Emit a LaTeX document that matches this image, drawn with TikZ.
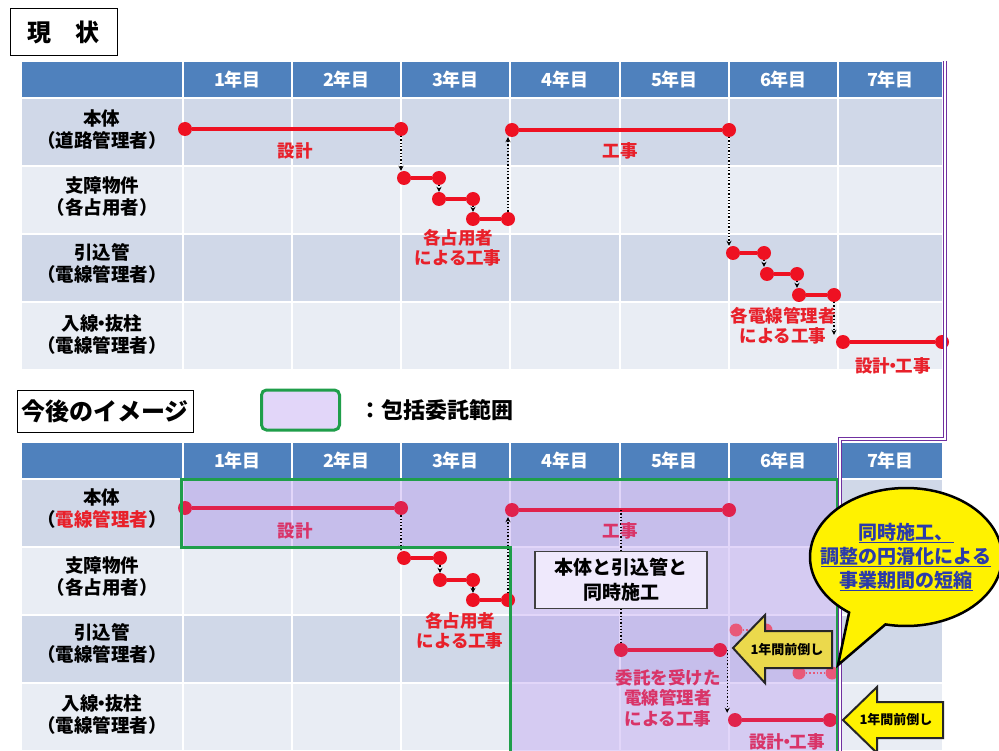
\documentclass[tikz,border=0pt]{standalone}
\usepackage{fontspec}
\setmainfont{Noto Sans CJK JP}
\usetikzlibrary{positioning,arrows.meta,calc,shapes.callouts}

\definecolor{hdrblue}{HTML}{4F81BD}
\definecolor{rowdark}{HTML}{D0D8E8}
\definecolor{rowlight}{HTML}{E9EDF4}
\definecolor{barred}{HTML}{EE1122}
\definecolor{labred}{HTML}{E8202A}
\definecolor{boxred}{HTML}{E0224C}
\definecolor{boxlbl}{HTML}{D93468}
\definecolor{scopelav}{HTML}{B799F0}
\definecolor{scopegreen}{HTML}{1F9E4A}
\definecolor{schedpurple}{HTML}{7030A0}
\definecolor{calloutblue}{HTML}{2B3BAA}
\definecolor{arrowyellow}{HTML}{FFF200}
\definecolor{arrowdim}{HTML}{EBD94C}

\newcommand{\nakaguro}{\kern-.33em・\kern-.33em}

\begin{document}
\begin{tikzpicture}[
    x=1pt, y=-1pt,
    cell/.style={draw=white, line width=1.5pt},
    yearlbl/.style={text=white, font=\bfseries\fontsize{18}{21}\selectfont},
    rowlbl/.style={align=center, font=\bfseries\fontsize{18.5}{22}\selectfont},
    redlbl/.style={align=center, text=labred, font=\bfseries\fontsize{17.5}{20.5}\selectfont},
    boxlbl/.style={redlbl, text=boxlbl},
    titlebox/.style={draw, line width=1pt, inner sep=0pt, font=\bfseries\fontsize{24}{28}\selectfont},
    mstone/.style={circle, fill=barred, inner sep=0pt, minimum size=14pt},
    boxstone/.style={mstone, fill=boxred},
    ghost/.style={circle, fill=boxred!75, inner sep=0pt, minimum size=13pt},
    task/.style={line width=4pt, barred},
    boxtask/.style={line width=4pt, boxred},
    dep/.style={-{Stealth[length=5pt, width=5pt]}, dotted, line width=1.3pt},
    pullarrow/.style={draw=black!85, line width=2pt, fill=arrowyellow},
    pulllbl/.style={inner sep=0pt, font=\bfseries\fontsize{13}{15}\selectfont},
    notebox/.style={draw=black!75, line width=1.2pt, fill=scopelav!22, align=center, minimum width=172pt, minimum height=57pt, font=\bfseries\fontsize{19}{25}\selectfont},
    bubble/.style={ellipse callout, draw=black, line width=2.5pt, fill=yellow, minimum width=192pt, minimum height=138pt, callout pointer arc=24},
    bubbletxt/.style={align=center, text=calloutblue, font=\bfseries\fontsize{19}{24}\selectfont},
    scopefill/.style={fill=scopelav, fill opacity=0.4},
    scopeline/.style={draw=scopegreen, line width=3pt},
    endline/.style={draw=schedpurple, double=white, double distance=1.5pt, line width=1.3pt}
]
\clip (0,0) rectangle (999,751);
\fill[white] (0,0) rectangle (999,751);

% titles
\node[titlebox, minimum width=107pt, minimum height=47pt] (now) at (63.5,32.5) {現　状};
\node[titlebox, minimum width=176pt, minimum height=42pt] (future) at (105,411) {今後のイメージ};

% legend
\node[draw=scopegreen, line width=3pt, rounded corners=5pt, fill=scopelav!40, minimum width=78pt, minimum height=40pt] (legend) at (300.5,410) {};
\node[inner sep=0pt, right=18pt of legend, font=\bfseries\fontsize{22}{26}\selectfont] (legendtxt) {：包括委託範囲};

% both tables
\foreach \yo in {0,381}{
  \foreach \xa/\xb in {21/183,183/292,292/401,401/510,510/620,620/729,729/838,838/943}{
    \filldraw[cell, fill=hdrblue] (\xa,61+\yo) rectangle (\xb,98+\yo);
    \filldraw[cell, fill=rowdark] (\xa,98+\yo) rectangle (\xb,166+\yo);
    \filldraw[cell, fill=rowlight] (\xa,166+\yo) rectangle (\xb,234+\yo);
    \filldraw[cell, fill=rowdark] (\xa,234+\yo) rectangle (\xb,302+\yo);
    \filldraw[cell, fill=rowlight] (\xa,302+\yo) rectangle (\xb,370+\yo);
  }
  \foreach \yr/\xc in {1/237.5,2/346.5,3/455.5,4/565,5/674.5,6/783.5,7/890.5}{
    \node[yearlbl] (yr\yr-\yo) at (\xc,79.5+\yo) {\yr{}年目};
  }
}

% row labels (current)
\node[rowlbl] (body) at (102,130) {本体\\（道路管理者）};
\node[rowlbl] (obst) at (102,197) {支障物件\\（各占用者）};
\node[rowlbl] (lead) at (102,263) {引込管\\（電線管理者）};
\node[rowlbl] (pole) at (102,334) {入線\nakaguro{}抜柱\\（電線管理者）};

% row labels (future)
\node[rowlbl] (body2) at (102,509) {本体\\（\textcolor{labred}{電線管理者}）};
\node[rowlbl] (obst2) at (102,577) {支障物件\\（各占用者）};
\node[rowlbl] (lead2) at (102,643) {引込管\\（電線管理者）};
\node[rowlbl] (pole2) at (102,714) {入線\nakaguro{}抜柱\\（電線管理者）};

% current schedule
\node[mstone] (a1) at (185,129) {};
\node[mstone] (a2) at (401,129) {};
\node[mstone] (b1) at (404,178) {};
\node[mstone] (b2) at (439,178) {};
\node[mstone] (b3) at (439,199) {};
\node[mstone] (b4) at (473,199) {};
\node[mstone] (b5) at (473,219) {};
\node[mstone] (b6) at (508,219) {};
\node[mstone] (c1) at (512,130) {};
\node[mstone] (c2) at (729,130) {};
\node[mstone] (d1) at (733,253) {};
\node[mstone] (d2) at (764,253) {};
\node[mstone] (d3) at (767,274) {};
\node[mstone] (d4) at (797,274) {};
\node[mstone] (d5) at (799,295) {};
\node[mstone] (d6) at (834,295) {};
\node[mstone] (e1) at (843,342) {};
\node[mstone] (e2) at (942,342) {};

\draw[task] (a1) -- (a2);
\draw[task] (b1) -- (b2);
\draw[task] (b3) -- (b4);
\draw[task] (b5) -- (b6);
\draw[task] (c1) -- (c2);
\draw[task] (d1) -- (d2);
\draw[task] (d3) -- (d4);
\draw[task] (d5) -- (d6);
\draw[task] (e1) -- (e2);

\draw[dep] (a2.south) -- (a2.south |- b1.north);
\draw[dep] (b2.south) -- (b2.south |- b3.north);
\draw[dep] (b4.south) -- (b4.south |- b5.north);
\draw[dep] (b6.north) -- (b6.north |- c1.south);
\draw[dep] (c2.south) -- (c2.south |- d1.north);
\draw[dep] (d2.south) -- (d2.south |- d3.north);
\draw[dep] (d4.south) -- (d4.south |- d5.north);
\draw[dep] (d6.south) -- (d6.south |- e1.north);

\node[redlbl] (a-lbl) at (295,151) {設計};
\node[redlbl] (b-lbl) at (458,248) {各占用者\\による工事};
\node[redlbl] (c-lbl) at (620,151) {工事};
\node[redlbl] (d-lbl) at (783,326) {各電線管理者\\による工事};
\node[redlbl] (e-lbl) at (893,366) {設計\nakaguro{}工事};

% scope of the package contract (shading)
\fill[scopefill] (181,479) -- (837,479) -- (837,760) -- (510,760) -- (510,547) -- (181,547) -- cycle;

% future schedule
\node[boxstone] (f1) at (185,508) {};
\node[boxstone] (f2) at (401,508) {};
\node[mstone] (g1) at (404,558) {};
\node[mstone] (g2) at (440,558) {};
\node[mstone] (g3) at (440,580) {};
\node[mstone] (g4) at (473,580) {};
\node[mstone] (g5) at (473,600) {};
\node[mstone] (g6) at (508,600) {};
\node[boxstone] (h1) at (512,510) {};
\node[boxstone] (h2) at (729,510) {};
\node[boxstone] (i1) at (621,650) {};
\node[boxstone] (i2) at (720,650) {};
\node[boxstone] (j1) at (735,720) {};
\node[boxstone] (j2) at (830,720) {};

% old position, faded
\node[ghost] (k1) at (736,630) {};
\node[ghost] (k2) at (766,630) {};
\node[ghost] (k5) at (799,673) {};
\node[ghost] (k6) at (832,673) {};
\draw[dotted, line width=1.6pt, boxred!75] (k1) -- (k2);
\draw[dotted, line width=1.6pt, boxred!75] (k5) -- (k6);

\draw[boxtask] (f1) -- (f2);
\draw[task] (g1) -- (g2);
\draw[task] (g3) -- (g4);
\draw[task] (g5) -- (g6);
\draw[boxtask] (h1) -- (h2);
\draw[boxtask] (i1) -- (i2);
\draw[boxtask] (j1) -- (j2);

\draw[dep] (f2.south) -- (f2.south |- g1.north);
\draw[dep] (g2.south) -- (g2.south |- g3.north);
\draw[dep] (g4.south) -- (g4.south |- g5.north);
\draw[dep] (g6.north) -- (g6.north |- h1.south);
\draw[dotted, line width=1.3pt] (h1 -| i1) -- (i1.north);
\draw[dep] (i2.east) -- (i2.east |- j1.north);

\node[boxlbl] (f-lbl) at (295,531) {設計};
\node[redlbl] (g-lbl) at (460,631) {各占用者\\による工事};
\node[boxlbl] (h-lbl) at (620,531) {工事};
\node[boxlbl] (i-lbl) at (668,698) {委託を受けた\\電線管理者\\による工事};
\node[boxlbl] (j-lbl) at (787,742) {設計\nakaguro{}工事};

% pull forward (row 3)
\draw[pullarrow, fill=arrowdim] (733,648) -- (765,615) -- (765,631) -- (832,631) -- (832,668) -- (765,668) -- (765,683) -- cycle;
\node[pulllbl] (pull1) at (787,650) {1年間前倒し};

\node[notebox] (together) at (621,580) {本体と引込管と\\同時施工};

% scope of the package contract (border)
\draw[scopeline] (181,479) -- (837,479) -- (837,760) -- (510,760) -- (510,547) -- (181,547) -- cycle;

\draw[endline] (945,61) -- (945,439) -- (840,439) -- (840,760);

% pull forward (row 4)
\draw[pullarrow] (843,720) -- (877,687) -- (877,702) -- (943,702) -- (943,738) -- (877,738) -- (877,753) -- cycle;
\node[pulllbl] (pull2) at (896,720) {1年間前倒し};

% callout
\node[bubble, callout absolute pointer={(838,665)}] (bub) at (906,557) {};
\node[bubbletxt] (bubtxt) at (bub.center) {\underline{同時施工、}\\\underline{調整の円滑化による}\\\underline{事業期間の短縮}};
\end{tikzpicture}
\end{document}
